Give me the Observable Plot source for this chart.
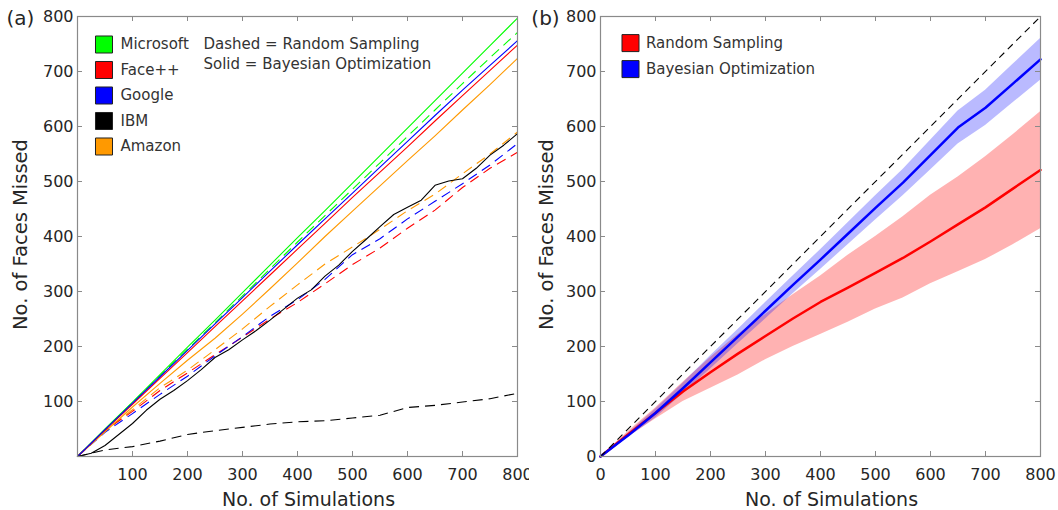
<!DOCTYPE html>
<html><head><meta charset="utf-8">
<script src="https://cdn.jsdelivr.net/npm/d3@7"></script>
<script src="https://cdn.jsdelivr.net/npm/@observablehq/plot@0.6"></script>
<style>
html,body{margin:0;padding:0;background:#fff;}
#wrap{display:flex;width:1058px;height:510px;overflow:hidden;}
#wrap svg{display:block;}
</style></head><body><div id="wrap"></div>
<script>
// ---------- data ----------
const sims = [0,50,100,150,200,250,300,350,400,450,500,550,600,650,700,750,800];
const simsFine = [0,25,50,75,100,125,150,175,200,225,250,275,300,325,350,375,400,425,450,475,500,525,550,575,600,625,650,675,700,725,750,775,800];

const apis = ["Microsoft", "Face++", "Google", "IBM", "Amazon"];
const apiColors = ["#00ff00", "#ff0000", "#0000ff", "#000000", "#ff9900"];

// Panel (a): Bayesian optimization (solid)
const microsoftBO = [0,50,99,149,199,248,298,348,398,447,497,547,597,647,697,747,797];
const faceBO      = [0,48,95,142,189,236,283,330,377,424,471,517,563,610,656,702,748];
const googleBO    = [0,49,97,145,193,241,289,337,385,432,479,526,573,620,666,711,756];
const amazonBO    = [0,45,90,133,175,215,259,305,352,400,446,492,538,583,630,676,724];
const ibmBO       = [0,6,20,40,60,84,104,120,138,158,180,194,212,229,248,268,288,303,328,348,373,395,418,440,453,466,493,501,505,524,548,566,587];
// Panel (a): random sampling (dashed)
const microsoftRS = [0,49,98,147,195,243,292,341,390,438,486,534,582,630,678,725,771];
const faceRS      = [0,47,82,120,152,185,217,250,280,314,349,379,415,448,489,524,553];
const googleRS    = [0,44,78,113,146,183,218,255,285,322,367,396,432,464,496,530,569];
const amazonRS    = [0,47,85,125,157,194,232,273,312,350,381,413,447,477,514,550,590];
const ibmRS       = [0,12,18,28,40,47,53,59,63,65,70,75,89,93,99,105,115];

// Panel (b): mean and spread
const rsMean  = [0,40,79,118,153,187,219,251,281,307,334,361,391,422,453,487,521];
const rsUpper = [0,45,88,135,180,222,258,294,328,366,400,436,475,508,545,585,627];
const rsLower = [0,35,68,100,124,148,176,200,222,244,268,288,314,336,358,385,414];
const boMean  = [0,38,79,124,171,218,265,312,358,405,452,498,548,598,634,678,722];
const boUpper = [0,42,86,133,183,231,280,328,376,425,474,522,575,628,666,713,760];
const boLower = [0,34,70,114,159,205,250,296,340,385,430,474,521,568,602,643,684];
const diagX = [0, 800];
const diagY = [0, 800];

const ticksA = [100,200,300,400,500,600,700,800];
const ticksB = [0,100,200,300,400,500,600,700,800];
const legendB = ["Random Sampling", "Bayesian Optimization"];
const legendBColors = ["#ff0000", "#0000ff"];

// ---------- tables ----------
function rows(xs, ys) { return ys.map((v, i) => ({x: xs[i], y: v})); }
const solidSeries = [
  [sims, microsoftBO, apiColors[0]],
  [sims, amazonBO, apiColors[4]],
  [sims, faceBO, apiColors[1]],
  [sims, googleBO, apiColors[2]],
  [simsFine, ibmBO, apiColors[3]]
];
const dashedSeries = [
  [sims, microsoftRS, apiColors[0]],
  [sims, amazonRS, apiColors[4]],
  [sims, faceRS, apiColors[1]],
  [sims, googleRS, apiColors[2]],
  [sims, ibmRS, apiColors[3]]
];
const bandRows = sims.map((s, i) => ({x: s, rm: rsMean[i], ru: rsUpper[i], rl: rsLower[i], bm: boMean[i], bu: boUpper[i], bl: boLower[i]}));
const diagRows = rows(diagX, diagY);

const FRAME = "#8a8a8a";
const TXT = "#262626";
const PH = 440, PW = 440;

function frameMarks(ticks) {
  return [
    Plot.tickX(ticks, {x: d => d, insetTop: PH - 5, stroke: FRAME}),
    Plot.tickX(ticks, {x: d => d, insetBottom: PH - 5, stroke: FRAME}),
    Plot.tickY(ticks, {y: d => d, insetRight: PW - 5, stroke: FRAME}),
    Plot.tickY(ticks, {y: d => d, insetLeft: PW - 5, stroke: FRAME}),
    Plot.frame({stroke: FRAME, strokeWidth: 1.2})
  ];
}
function labelMarks(panel, ylabDx, panelDx) {
  return [
    Plot.text(["No. of Simulations"], {frameAnchor: "bottom", text: d => d, dy: 43, dx: 11, fontSize: 19, fill: TXT, textAnchor: "middle", lineAnchor: "middle"}),
    Plot.text(["No. of Faces Missed"], {frameAnchor: "left", text: d => d, rotate: -90, dx: ylabDx, dy: -2, fontSize: 19.5, fill: TXT, textAnchor: "middle", lineAnchor: "middle"}),
    Plot.text([panel], {frameAnchor: "top-left", text: d => d, dx: panelDx, dy: 2, fontSize: 20, fill: TXT, textAnchor: "middle", lineAnchor: "middle"})
  ];
}
function legendText(name, dx, dy) {
  return Plot.text([name], {frameAnchor: "top-left", text: d => d, dx, dy, textAnchor: "start", lineAnchor: "middle", fontSize: 15, fill: "#333"});
}
const baseStyle = {fontFamily: "DejaVu Sans", fontSize: "16px", color: TXT, background: "white", overflow: "visible"};

// ---------- panel (a) ----------
const legendA = apis.flatMap((name, i) => [
  Plot.dot([name], {frameAnchor: "top-left", dx: 26.5, dy: 28 + i * 25.5, symbol: "square", r: 9.6, fill: apiColors[i], stroke: "#222", strokeWidth: 1}),
  legendText(name, 43, 28 + i * 25.5)
]);

const plotA = Plot.plot({
  width: 529, height: 510, marginLeft: 77, marginRight: 12, marginTop: 16, marginBottom: 54,
  style: baseStyle,
  x: {domain: [0, 800], ticks: ticksA, tickSize: 0, tickPadding: 12, label: null},
  y: {domain: [0, 800], ticks: ticksA, tickSize: 0, tickPadding: 4, label: null},
  marks: [
    ...dashedSeries.map(([xs, ys, c]) => Plot.line(rows(xs, ys), {x: "x", y: "y", stroke: c, strokeWidth: 1.1, strokeDasharray: "10,6", strokeLinecap: "butt"})),
    ...solidSeries.map(([xs, ys, c]) => Plot.line(rows(xs, ys), {x: "x", y: "y", stroke: c, strokeWidth: 1.1})),
    ...frameMarks(ticksA),
    ...labelMarks("(a)", -56.5, -57),
    ...legendA,
    legendText("Dashed = Random Sampling", 126, 27.5),
    legendText("Solid = Bayesian Optimization", 126, 48)
  ]
});

// ---------- panel (b) ----------
const legendBMarks = legendB.flatMap((name, i) => [
  Plot.dot([name], {frameAnchor: "top-left", dx: 30, dy: 26.6 + i * 26, symbol: "square", r: 9.6, fill: legendBColors[i], stroke: "#222", strokeWidth: 1}),
  legendText(name, 45.5, 26.6 + i * 26)
]);

const plotB = Plot.plot({
  width: 529, height: 510, marginLeft: 71, marginRight: 18, marginTop: 16, marginBottom: 54,
  style: baseStyle,
  x: {domain: [0, 800], ticks: ticksB, tickSize: 0, tickPadding: 12, label: null},
  y: {domain: [0, 800], ticks: ticksB, tickSize: 0, tickPadding: 4, label: null},
  marks: [
    Plot.areaY(bandRows, {x: "x", y1: "rl", y2: "ru", fill: "#ff0000", fillOpacity: 0.3}),
    Plot.areaY(bandRows, {x: "x", y1: "bl", y2: "bu", fill: "#0000ff", fillOpacity: 0.27}),
    Plot.line(bandRows, {x: "x", y: "rm", stroke: "#ff0000", strokeWidth: 2.5}),
    Plot.line(bandRows, {x: "x", y: "bm", stroke: "#0000ff", strokeWidth: 2.5}),
    Plot.line(diagRows, {x: "x", y: "y", stroke: "#000", strokeWidth: 1.1, strokeDasharray: "7,5", strokeLinecap: "butt"}),
    ...frameMarks(ticksB),
    ...labelMarks("(b)", -54, -55),
    ...legendBMarks
  ]
});

const wrap = document.getElementById("wrap");
wrap.appendChild(plotA);
wrap.appendChild(plotB);
</script></body></html>
